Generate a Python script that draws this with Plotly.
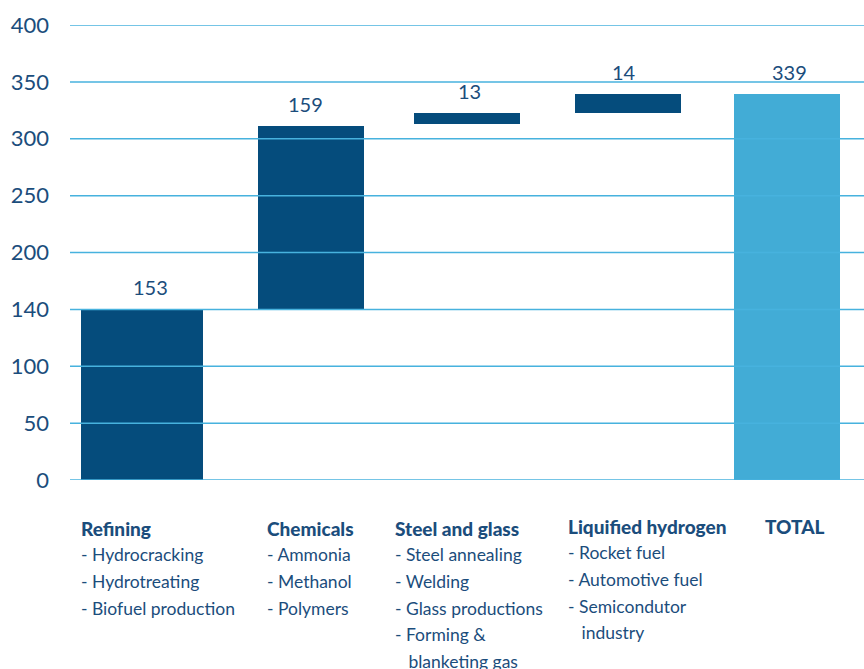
import plotly.graph_objects as go

# ---------------- data ----------------
categories = ["Refining", "Chemicals", "Steel and glass", "Liquified hydrogen", "TOTAL"]
bar_base = [0, 150, 313, 323, 0]
bar_top = [150, 311, 323, 339.5, 339.5]
value_labels = ["153", "159", "13", "14", "339"]
sub_items = [
    ["- Hydrocracking", "- Hydrotreating", "- Biofuel production"],
    ["- Ammonia", "- Methanol", "- Polymers"],
    ["- Steel annealing", "- Welding", "- Glass productions", "- Forming &", "\u00a0\u00a0\u00a0blanketing gas"],
    ["- Rocket fuel", "- Automotive fuel", "- Semicondutor", "\u00a0\u00a0\u00a0industry"],
    [],
]
ytick_vals = [0, 50, 100, 150, 200, 250, 300, 350, 400]
ytick_text = ["0", "50", "100", "140", "200", "250", "300", "350", "400"]

# ---------------- style ----------------
DARK = "#054c7c"
LIGHT = "#42acd6"
GRID = "#47b2de"
TEXT = "#1b4d7c"
FONT = "Lato"
bar_colors = [DARK, DARK, DARK, DARK, LIGHT]
bar_pos = [0, 1.048, 2.0155, 3.014, 4]
bar_width = [0.757, 0.657, 0.657, 0.657, 0.657]
label_xshift = [8, -5, 2, -4, 2]
text_x_paper = [0.0108, 0.2456, 0.4064, 0.6247, 0.8728]
text_y_adjust = [0, 0, 0, 2, 2]
line_gap = 26.7
first_line_offset = 48

heights = [t - b for t, b in zip(bar_top, bar_base)]

fig = go.Figure()
fig.add_trace(go.Bar(
    x=bar_pos, y=heights, base=bar_base, width=bar_width,
    marker=dict(color=bar_colors, line=dict(width=0)),
    hoverinfo="skip", showlegend=False,
))

annotations = []
for i, lab in enumerate(value_labels):
    annotations.append(dict(
        x=bar_pos[i], y=bar_top[i], xref="x", yref="y",
        text=lab, showarrow=False, yanchor="bottom", xanchor="center",
        yshift=8, xshift=label_xshift[i],
        font=dict(family=FONT, size=20, color=TEXT),
    ))

for i, cat in enumerate(categories):
    lines = [cat] + sub_items[i]
    for j, ln in enumerate(lines):
        if j == 0:
            f = dict(family=FONT, size=19, color=TEXT, weight=900)
        else:
            f = dict(family=FONT, size=17.5, color=TEXT)
        annotations.append(dict(
            x=text_x_paper[i], y=0, xref="paper", yref="paper",
            text=ln, showarrow=False, xanchor="left", yanchor="middle",
            yshift=-(first_line_offset + j * line_gap - text_y_adjust[i]),
            font=f,
        ))

shapes = []
for v in ytick_vals:
    shapes.append(dict(
        type="line", xref="paper", yref="y", x0=0, x1=1, y0=v, y1=v,
        line=dict(color=GRID, width=1.5), layer="above",
    ))

fig.update_layout(
    width=864, height=669,
    margin=dict(l=70, r=0, t=25, b=189),
    plot_bgcolor="white", paper_bgcolor="white",
    bargap=0,
    xaxis=dict(range=[-0.4465, 4.4775], visible=False, fixedrange=True),
    yaxis=dict(
        range=[0, 400], tickvals=ytick_vals, ticktext=ytick_text,
        showgrid=False, zeroline=False, showline=False, ticks="",
        ticklabelstandoff=20,
        tickfont=dict(family=FONT, size=22, color=TEXT),
    ),
    annotations=annotations,
    shapes=shapes,
    font=dict(family=FONT, color=TEXT),
)

fig.write_html("out.html")
